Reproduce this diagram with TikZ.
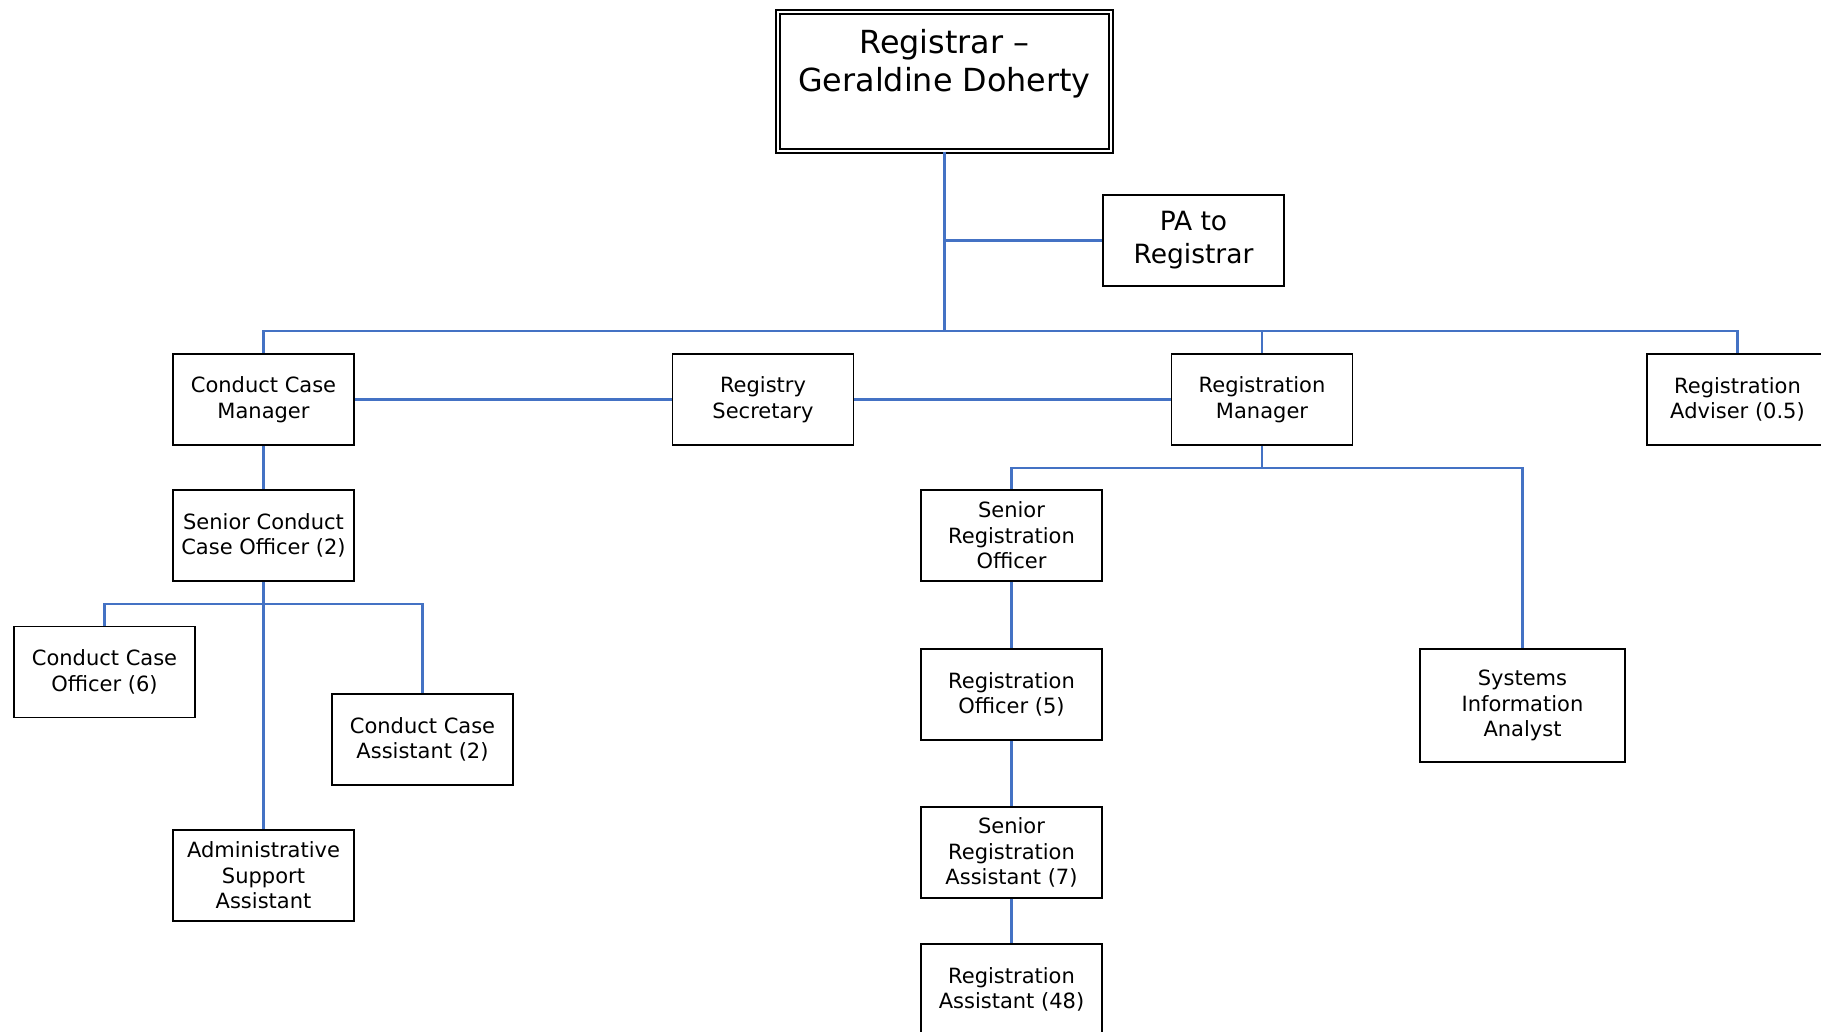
\documentclass[tikz,border=0pt]{standalone}
\usepackage{fontspec}
\setmainfont{DejaVu Sans}
\definecolor{connblue}{HTML}{4472C4}
\tikzset{
  box/.style={draw=black, line width=1.8pt, minimum width=181pt, minimum height=91pt,
    align=center, inner sep=0pt, fill=white, font=\fontsize{21}{25.5}\selectfont},
  conn/.style={draw=connblue, line width=2.1pt},
}
\begin{document}
\begin{tikzpicture}[x=1pt,y=-1pt]
\useasboundingbox (0,0) rectangle (1821,1032);
\clip (0,0) rectangle (1821,1032);
\fill[white] (0,0) rectangle (1821,1032);
\coordinate (barL) at (264,331);
\coordinate (b2) at (105,604);
\coordinate (b3) at (1012,468);
% nodes
\node[draw=black, double, double distance=2.6pt, line width=1.5pt,
  minimum width=333pt, minimum height=139pt, inner sep=0pt] (reg) at (944.5,81.5) {};
\node[align=center, inner sep=0pt, font=\fontsize{31.8}{38}\selectfont] (regt) at (944.5,64) {Registrar --\\Geraldine Doherty};
\node[box, font=\fontsize{26.5}{33}\selectfont] (pa) at (1193.5,240.5) {PA to\\Registrar};
\node[box] (ccm) at (263.5,399.5) {Conduct Case\\Manager};
\node[box] (rs) at (763,399.5) {Registry\\Secretary};
\node[box] (rm) at (1262,399.5) {Registration\\Manager};
\node[box] (ra) at (1737.5,399.5) {Registration\\Adviser (0.5)};
\node[box] (scco) at (263.5,535.5) {Senior Conduct\\Case Officer (2)};
\node[box] (cco) at (104.5,672) {Conduct Case\\Officer (6)};
\node[box] (cca) at (422.5,739.5) {Conduct Case\\Assistant (2)};
\node[box] (asa) at (263.5,875.5) {Administrative\\Support\\Assistant};
\node[box] (sro) at (1011.5,535.5) {Senior\\Registration\\Officer};
\node[box] (ro) at (1011.5,694.5) {Registration\\Officer (5)};
\node[box] (sra) at (1011.5,852.5) {Senior\\Registration\\Assistant (7)};
\node[box] (ras) at (1011.5,989.5) {Registration\\Assistant (48)};
\node[box, minimum width=205pt, minimum height=113pt] (sia) at (1522.5,705.5) {Systems\\Information\\Analyst};
% lines
\draw[conn] (reg.south) -- (reg.south |- barL);
\draw[conn] (reg.south |- pa.west) -- (pa.west);
\draw[conn] (ccm.north) -- (ccm.north |- barL) -- (ra.north |- barL) -- (ra.north);
\draw[conn] (rm.north) -- (rm.north |- barL);
\draw[conn] (ccm.east) -- (rs.west);
\draw[conn] (rs.east) -- (rm.west);
\draw[conn] (ccm.south) -- (scco.north);
\draw[conn] (scco.south) -- (asa.north);
\draw[conn] (cco.north) -- (cco.north |- b2) -- (cca.north |- b2) -- (cca.north);
\draw[conn] (rm.south) -- (rm.south |- b3);
\draw[conn] (sro.north) -- (sro.north |- b3) -- (sia.north |- b3) -- (sia.north);
\draw[conn] (sro.south) -- (ro.north);
\draw[conn] (ro.south) -- (sra.north);
\draw[conn] (sra.south) -- (ras.north);
\end{tikzpicture}
\end{document}
